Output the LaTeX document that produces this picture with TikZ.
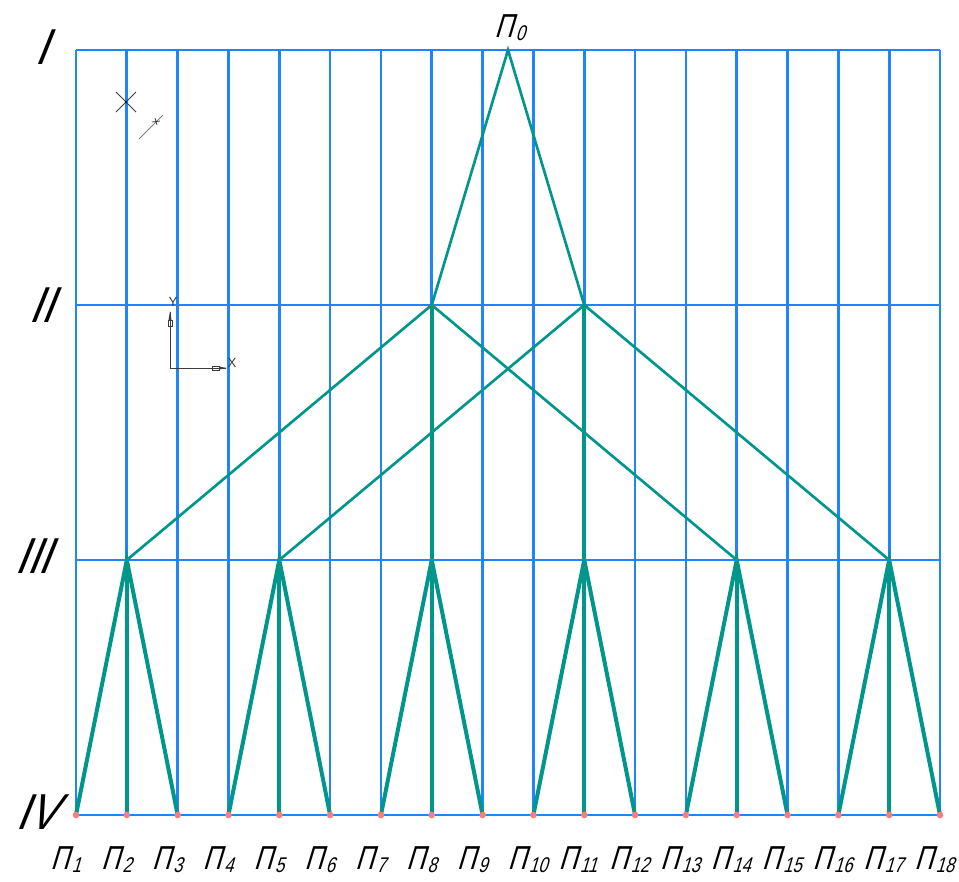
\documentclass[tikz,border=0pt]{standalone}
\usepackage{fontspec}
\setmainfont{Liberation Sans}
\newfontfamily\gostfont[FakeSlant=0.3, FakeStretch=0.78]{Liberation Sans}
\newfontfamily\romanfont[FakeSlant=0.4, FakeStretch=0.85]{Liberation Sans}
\usetikzlibrary{positioning, arrows.meta, calc}
\definecolor{gridblue}{RGB}{30,132,255}
\definecolor{treeteal}{RGB}{0,150,140}
\definecolor{dotred}{RGB}{250,125,125}
\definecolor{cadgray}{RGB}{60,60,60}

% label with subscript index
\newcommand{\plab}[1]{П\hspace{2pt}\raisebox{-0.1em}{\fontsize{16}{16}\selectfont #1}}

\begin{document}
\begin{tikzpicture}[x=0.02646cm, y=-0.02646cm,
    gridline/.style={draw=gridblue, line width=2pt},
    branch/.style={draw=treeteal, line width=2pt},
    leafline/.style={draw=treeteal, line width=3pt},
    leafdot/.style={circle, fill=dotred, inner sep=0pt, minimum size=5pt},
    levelname/.style={font=\fontsize{38}{38}\selectfont\romanfont, inner sep=0pt},
    plabel/.style={font=\fontsize{25}{25}\selectfont\gostfont, inner sep=0pt, anchor=base west},
    cadmark/.style={draw=cadgray, line width=0.6pt}]
    \useasboundingbox (0,0) rectangle (959,881);

    % grid
    \foreach \i in {0,...,17}
        \draw[gridline] ({76+\i*50.8235},50) -- ({76+\i*50.8235},815);
    \foreach \y in {50,305,560,815}
        \draw[gridline] (76,\y) -- (940,\y);

    % levels
    \node[levelname] (r1) at (40,47) {I};
    \node[levelname] (r2) at (40,305) {II};
    \node[levelname] (r3) at (32,556) {III};
    \node[levelname] (r4) at (36,812) {IV};

    % tree points
    \coordinate (p0) at (508,50);
    \coordinate (a1) at ({76+7*50.8235},305);
    \coordinate (a2) at ({76+10*50.8235},305);
    \foreach \k in {1,...,6}
        \coordinate (m\k) at ({76+(3*\k-2)*50.8235},560);
    \foreach \i in {1,...,18}
        \coordinate (l\i) at ({76+(\i-1)*50.8235},815);

    \draw[branch] (a1) -- (p0) -- (a2);
    \draw[branch] (m1) -- (a1) -- (m5);
    \draw[branch] (m2) -- (a2) -- (m6);
    \draw[leafline] (a1) -- (m3);
    \draw[leafline] (a2) -- (m4);
    \foreach \k [evaluate=\k as \a using int(3*\k-2),
                 evaluate=\k as \b using int(3*\k-1),
                 evaluate=\k as \c using int(3*\k)] in {1,...,6} {
        \draw[leafline] (l\a) -- (m\k) -- (l\c);
        \draw[leafline] (m\k) -- (l\b);
    }
    \foreach \i in {1,...,18}
        \node[leafdot] (d\i) at (l\i) {};

    % labels
    \node[plabel] (t0) at (494,37) {\plab{0}};
    \foreach \i in {1,...,18}
        \node[plabel] (t\i) at ({76+(\i-1)*50.8235-26},869) {\plab{\i}};

    % cad marks
    \coordinate (cx) at (126,102);
    \draw[cadmark] ($(cx)+(-10,-10)$) -- ($(cx)+(10,10)$);
    \draw[cadmark] ($(cx)+(-10,10)$) -- ($(cx)+(10,-10)$);
    \fill[black] (cx) circle (1.2);
    \coordinate (sa) at (139,139);
    \coordinate (sb) at (163,115);
    \draw[cadmark, draw=gray] (sa) -- (sb);
    \draw[cadmark] (155,118) -- (157,125) (152,122) -- (160,121);

    \coordinate (o) at (170,368);
    \coordinate (oy) at (170,312);
    \coordinate (ox) at (226,368);
    \draw[cadmark] (oy) -- (o) -- (ox);
    \draw[cadmark] (168,320) rectangle (172,326);
    \fill[cadgray] (168.5,320) -- (170,311) -- (171.5,320) -- cycle;
    \draw[cadmark] (212,366) rectangle (219,370);
    \fill[cadgray] (219,366.5) -- (227,368) -- (219,369.5) -- cycle;
    \node[font=\fontsize{10}{10}\selectfont, text=cadgray, inner sep=0pt] (ylab) at (173,302) {Y};
    \node[font=\fontsize{10}{10}\selectfont, text=cadgray, inner sep=0pt] (xlab) at (232,363) {X};
\end{tikzpicture}
\end{document}
